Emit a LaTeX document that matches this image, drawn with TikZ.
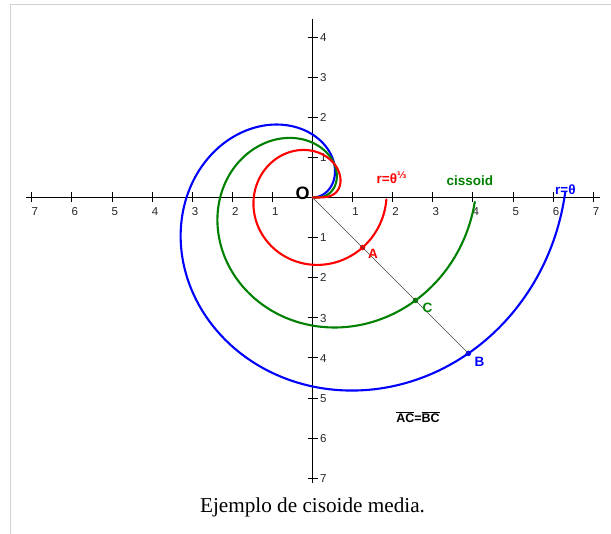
\documentclass[tikz,border=0pt]{standalone}
\usepackage{fontspec}
\setmainfont{Liberation Serif}
\newfontfamily\arialf{Liberation Sans}
\newfontfamily\dejavu{DejaVu Sans}
\definecolor{cred}{RGB}{255,0,0}
\definecolor{cgreen}{RGB}{0,128,0}
\definecolor{cblue}{RGB}{0,0,255}
\definecolor{framegray}{RGB}{210,210,210}
\begin{document}
\begin{tikzpicture}[x=1pt,y=-1pt,
  axis/.style={draw=black, line width=0.9pt},
  tickmark/.style={draw=black, line width=0.9pt},
  numlbl/.style={inner sep=0pt, font=\arialf\fontsize{11.5}{12}\selectfont, text=black!85},
  curve/.style={line width=2.1pt, line join=round, line cap=round},
  lbl/.style={inner sep=0pt, font=\arialf\bfseries\fontsize{13.5}{14}\selectfont},
  dot/.style={circle, inner sep=0pt, minimum size=5.5pt}
]
\useasboundingbox (0,0) rectangle (611,534);
\draw[framegray, line width=1pt] (10.5,534) -- (10.5,4.5) -- (611,4.5);

% axes
\coordinate (xl) at (26,197.5);
\coordinate (xr) at (600,197.5);
\coordinate (yt) at (312.5,19);
\coordinate (yb) at (312.5,483);
\draw[axis] (xl) -- (xr);
\draw[axis] (yt) -- (yb);

\foreach \i in {-7,-6,-5,-4,-3,-2,-1,1,2,3,4,5,6,7} {
  \pgfmathsetmacro\xx{312.5+40.1*\i}
  \pgfmathtruncatemacro\aa{abs(\i)}
  \draw[tickmark] (\xx,192.5) -- ++(0,10);
  \node[numlbl, anchor=base west] (xn\i) at (\xx-0.5,215.5) {\aa};
}
\foreach \j in {4,3,2,1,-1,-2,-3,-4,-5,-6,-7} {
  \pgfmathsetmacro\yy{197.5-40.1*\j}
  \pgfmathtruncatemacro\bb{abs(\j)}
  \draw[tickmark] (307.5,\yy) -- ++(10,0);
  \node[numlbl, anchor=base west] (yn\j) at (320,\yy+4.3) {\bb};
}

% curves
\begin{scope}[shift={(312.5,197.5)}, x=40.1pt, y=40.1pt]
  \coordinate (orig) at (0,0);
  \draw[curve, cblue] plot[domain=0:6.308, samples=420, variable=\t]
    ({\t*cos(deg(\t))},{\t*sin(deg(\t))});
  \draw[curve, cgreen] plot[domain=0:1.8453, samples=500, variable=\s]
    ({0.5*(\s*\s*\s+\s)*cos(deg(\s*\s*\s))},{0.5*(\s*\s*\s+\s)*sin(deg(\s*\s*\s))});
  \draw[curve, cred] plot[domain=0:1.8453, samples=500, variable=\s]
    ({\s*cos(deg(\s*\s*\s))},{\s*sin(deg(\s*\s*\s))});
  \node[dot, fill=cred] (pA) at (1.2479,-1.2479) {};
  \node[dot, fill=cgreen] (pC) at (2.5677,-2.5677) {};
  \node[dot, fill=cblue] (pB) at (3.8876,-3.8876) {};
  \draw[line width=0.6pt, black!75] (orig) -- (pB.center);
\end{scope}

% labels
\node[inner sep=0pt, font=\arialf\bfseries\fontsize{18}{18}\selectfont] (lO) at (302.5,193.5) {O};
\node[lbl, text=cred] (lA) at (373,254) {A};
\node[lbl, text=cgreen] (lC) at (427.5,307.5) {C};
\node[lbl, text=cblue] (lB) at (479.5,361.7) {B};
\node[lbl, text=cred, anchor=base west] (lred) at (376.5,184) {r=θ\raisebox{5pt}{\dejavu\bfseries\fontsize{9}{9}\selectfont ⅓}};
\node[lbl, text=cgreen, anchor=base west] (lgreen) at (446.5,186) {cissoid};
\node[lbl, text=cblue, anchor=base west] (lblue) at (555,194.3) {r=θ};
\node[inner sep=0pt, font=\arialf\bfseries\fontsize{12.5}{13}\selectfont] (leq) at (418,417)
  {$\overline{\hbox{AC}}$=$\overline{\hbox{BC}}$};
\node[inner sep=0pt, anchor=base, font=\fontsize{21.2}{23}\selectfont] (cap) at (312.5,513) {Ejemplo de cisoide media.};
\end{tikzpicture}
\end{document}
